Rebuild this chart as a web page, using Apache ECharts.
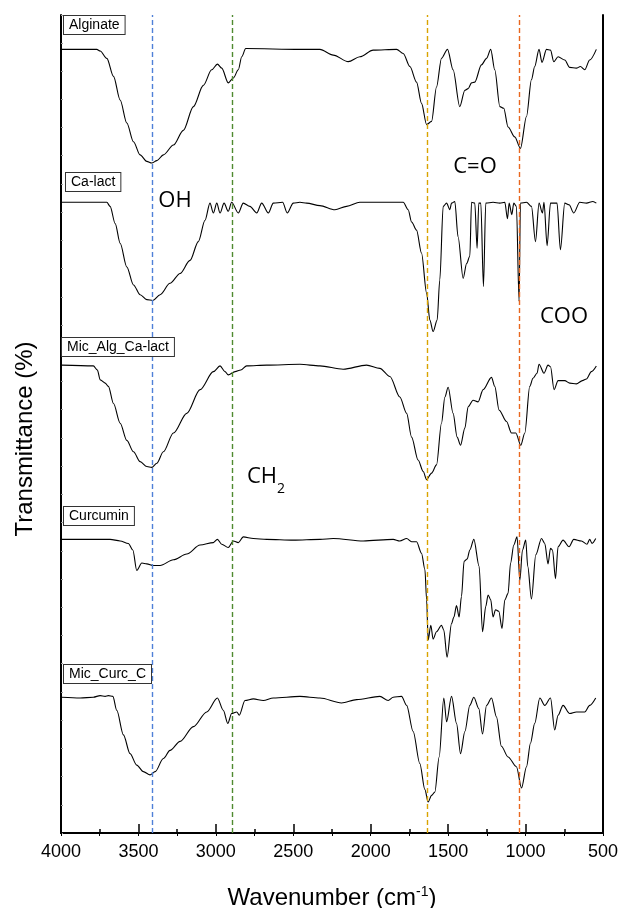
<!DOCTYPE html>
<html>
<head>
<meta charset="utf-8" />
<script src="https://cdn.jsdelivr.net/npm/echarts/dist/echarts.min.js"></script>
</head>
<body style="margin:0;background:#fff">
<div id="main" style="width:622px;height:908px"></div>
<script>
// FTIR spectra, stacked with offsets (arbitrary transmittance units, 0..100)
const alginate = [[3995,95.8],[3769,95.8],[3747,95.6],[3704,94.7],[3661,92.5],[3618,89.6],[3575,86.8],[3532,84.5],[3489,82.9],[3446,82.1],[3414,81.9],[3381,82.2],[3339,82.9],[3274,84.1],[3210,85.9],[3145,88.8],[3081,91.4],[3027,93.3],[2990,94.0],[2962,93.5],[2920,91.7],[2887,92.3],[2855,93.3],[2833,94.9],[2807,95.9],[2457,95.8],[2328,95.8],[2242,95.1],[2145,94.3],[2070,94.9],[1984,95.7],[1833,95.8],[1790,95.3],[1747,93.7],[1704,91.8],[1672,89.2],[1639,86.6],[1607,87.0],[1575,91.2],[1543,94.7],[1504,95.8],[1468,93.3],[1425,88.8],[1392,90.8],[1371,91.0],[1349,91.7],[1328,91.8],[1285,93.9],[1252,94.7],[1225,95.8],[1199,93.3],[1166,88.8],[1141,88.6],[1113,86.3],[1070,85.1],[1033,83.7],[994,87.6],[962,92.1],[941,93.7],[913,95.8],[894,94.2],[865,95.8],[839,95.7],[818,94.3],[790,94.9],[747,94.5],[715,93.6],[672,93.5],[646,93.7],[618,93.3],[586,94.5],[543,95.8]];

const caLact = [[3995,77.1],[3704,77.1],[3683,76.6],[3650,74.5],[3618,72.1],[3575,69.2],[3532,67.0],[3489,65.8],[3446,65.2],[3407,65.1],[3360,65.8],[3296,67.2],[3231,68.4],[3167,70.0],[3113,72.3],[3070,74.9],[3038,77.0],[3016,75.8],[2994,77.0],[2973,75.8],[2947,77.0],[2920,76.0],[2898,77.1],[2855,75.8],[2823,77.0],[2780,76.6],[2736,75.8],[2704,77.0],[2661,75.8],[2629,77.0],[2569,77.1],[2539,75.8],[2500,77.0],[2457,77.1],[2414,77.0],[2328,76.7],[2231,76.2],[2156,76.6],[2070,77.1],[1790,77.1],[1758,76.2],[1736,74.7],[1704,73.7],[1672,70.9],[1639,66.0],[1618,62.7],[1597,61.3],[1571,62.7],[1554,67.6],[1532,76.6],[1510,77.0],[1489,76.2],[1478,77.0],[1457,77.2],[1436,72.9],[1403,67.8],[1381,69.6],[1360,70.5],[1349,77.1],[1328,77.0],[1313,71.5],[1302,77.0],[1289,77.0],[1272,66.8],[1257,77.0],[1210,77.1],[1166,77.0],[1134,77.1],[1117,75.1],[1106,77.0],[1089,75.6],[1076,77.0],[1059,76.6],[1042,65.0],[1033,77.0],[994,77.1],[962,76.6],[936,72.3],[913,77.0],[891,75.8],[881,77.1],[861,71.8],[839,77.0],[797,77.0],[775,71.3],[747,77.0],[719,76.8],[689,75.8],[650,77.1],[607,77.0],[565,77.2],[543,77.0]];

const micAlgCaLact = [[3995,57.2],[3791,57.1],[3765,56.6],[3747,55.4],[3715,55.0],[3694,54.6],[3661,52.5],[3618,50.1],[3575,48.0],[3532,46.6],[3489,45.4],[3446,44.8],[3414,44.7],[3381,45.2],[3339,46.6],[3274,48.9],[3188,51.3],[3102,54.2],[3016,56.4],[2973,57.1],[2941,56.4],[2920,56.0],[2876,56.4],[2839,56.6],[2801,57.1],[2672,57.2],[2457,57.3],[2328,57.1],[2178,56.7],[2027,57.2],[1941,56.8],[1876,55.8],[1812,53.3],[1768,51.3],[1736,48.4],[1694,45.6],[1661,44.2],[1639,43.2],[1607,44.0],[1575,45.0],[1543,50.1],[1521,53.3],[1500,54.5],[1468,51.3],[1442,48.4],[1420,47.4],[1392,49.5],[1371,52.1],[1339,52.9],[1307,52.7],[1274,54.2],[1220,55.7],[1199,54.6],[1171,51.7],[1123,50.3],[1091,48.9],[1063,48.9],[1031,47.4],[1005,48.9],[973,54.6],[952,55.6],[926,56.2],[913,57.3],[881,56.2],[855,57.2],[839,57.0],[816,54.2],[790,55.3],[747,55.3],[715,55.0],[672,54.9],[633,55.3],[607,55.5],[575,56.4],[543,57.1]];

const curcumin = [[3995,35.9],[3683,35.9],[3618,35.7],[3565,35.4],[3536,34.6],[3511,32.1],[3478,33.0],[3446,32.9],[3403,32.7],[3360,32.7],[3274,33.4],[3188,34.1],[3102,35.2],[3016,35.5],[2990,35.9],[2962,35.3],[2920,34.9],[2887,35.7],[2855,35.5],[2823,36.2],[2758,36.0],[2672,35.9],[2500,35.8],[2328,35.9],[2242,36.0],[2048,35.7],[1855,35.9],[1812,35.7],[1768,36.0],[1736,35.6],[1704,35.6],[1672,34.2],[1650,32.2],[1639,28.5],[1629,23.6],[1612,25.4],[1597,23.7],[1575,24.6],[1543,25.4],[1528,24.8],[1507,21.5],[1478,25.6],[1463,26.4],[1446,27.8],[1429,26.4],[1414,28.9],[1397,33.2],[1377,33.5],[1360,34.6],[1334,35.9],[1300,32.6],[1278,24.6],[1257,27.7],[1242,29.1],[1225,28.5],[1210,26.4],[1194,27.3],[1173,27.1],[1152,25.0],[1134,28.5],[1113,29.3],[1097,33.0],[1076,35.2],[1055,36.2],[1037,30.9],[1020,34.6],[999,35.8],[986,32.6],[962,28.6],[934,34.0],[897,36.0],[876,35.4],[855,32.9],[839,34.8],[826,34.6],[807,31.1],[790,35.0],[758,35.8],[719,35.0],[689,35.9],[639,35.7],[603,35.3],[586,35.9],[571,35.4],[547,36.0]];

const micCurcC = [[3995,16.6],[3876,16.5],[3791,16.6],[3747,16.8],[3715,16.7],[3694,16.8],[3665,16.7],[3640,15.0],[3597,12.0],[3554,9.7],[3511,8.3],[3468,7.5],[3425,7.1],[3392,7.5],[3339,9.1],[3296,10.1],[3231,11.2],[3145,13.0],[3059,14.8],[2990,16.5],[2952,15.0],[2923,13.4],[2898,14.6],[2865,14.8],[2849,14.4],[2812,16.2],[2758,16.4],[2694,16.2],[2629,16.5],[2457,16.7],[2328,16.5],[2188,15.9],[2091,16.3],[1941,16.7],[1887,16.2],[1855,16.6],[1801,16.7],[1768,15.6],[1726,12.4],[1683,8.5],[1650,5.3],[1629,3.8],[1607,4.6],[1586,5.0],[1558,9.3],[1528,16.5],[1510,13.6],[1478,16.7],[1446,13.4],[1420,9.7],[1392,12.4],[1360,15.6],[1334,16.6],[1302,15.2],[1278,12.1],[1252,15.6],[1220,16.5],[1188,14.2],[1156,10.6],[1113,9.3],[1059,8.1],[1026,5.5],[994,8.1],[968,11.0],[941,13.4],[908,16.5],[876,15.6],[839,16.5],[812,12.6],[790,14.4],[758,15.6],[715,14.6],[672,14.8],[618,14.8],[586,15.6],[547,16.5]];

const spectra = [alginate, caLact, micAlgCaLact, curcumin, micCurcC];
const sampleNames = ['Alginate', 'Ca-lact', 'Mic_Alg_Ca-lact', 'Curcumin', 'Mic_Curc_C'];

// band markers (cm-1) and their colours
const bandPositions = [3410, 2893, 1638, 1040];
const bandColors = ['#4f80d8', '#4f8a30', '#d9a300', '#e8671e'];

const chart = echarts.init(document.getElementById('main'), null, { renderer: 'canvas' });

const series = spectra.map((d, i) => ({
  name: sampleNames[i],
  type: 'line',
  data: d,
  showSymbol: false,
  silent: true,
  smooth: 0.3,
  smoothMonotone: 'x',
  lineStyle: { color: '#000', width: 1.1 },
  z: 3
}));

series[0].markLine = {
  silent: true,
  symbol: 'none',
  label: { show: false },
  data: bandPositions.map((v, i) => ({ xAxis: v, lineStyle: { color: bandColors[i], type: [5, 3], width: 1.4, opacity: 1 } }))
};

const labelTops = [16, 173, 338, 507, 665];
const labelLefts = [64, 66, 62, 64, 64];

const boxFont = '14px "Liberation Sans", Arial, sans-serif';
const annFont = '22px "Open Sans", sans-serif';

const graphic = sampleNames.map((n, i) => ({
  type: 'text',
  x: labelLefts[i],
  y: labelTops[i],
  z: 10,
  style: {
    text: n,
    font: boxFont,
    fill: '#000',
    backgroundColor: '#fff',
    borderColor: '#333',
    borderWidth: 1,
    padding: [2, 5, 2, 5]
  }
}));

const annotations = [
  { text: 'OH', x: 175, y: 201 },
  { text: 'C=O', x: 475, y: 167 },
  { text: 'COO', x: 564, y: 317 },
  { text: 'CH', x: 262, y: 477 }
];
annotations.forEach(a => graphic.push({
  type: 'text', x: a.x, y: a.y, z: 10,
  style: { text: a.text, font: annFont, fill: '#000', textAlign: 'center', textVerticalAlign: 'middle' }
}));
graphic.push({
  type: 'text', x: 281, y: 489, z: 10,
  style: { text: '2', font: '14px "Open Sans", sans-serif', fill: '#000', textAlign: 'center', textVerticalAlign: 'middle' }
});

const option = {
  animation: false,
  backgroundColor: '#fff',
  grid: { left: 61, right: 19, top: 15, bottom: 75, containLabel: false, outerBoundsMode: 'none' },
  xAxis: [
    {
      type: 'value',
      min: 500,
      max: 4000,
      interval: 500,
      inverse: true,
      position: 'bottom',
      name: '{a|Wavenumber (cm}{s|-1}{a|)}',
      nameLocation: 'middle',
      nameGap: 52,
      nameTextStyle: {
        rich: {
          a: { fontSize: 24, fontFamily: 'Liberation Sans', color: '#000' },
          s: { fontSize: 14, fontFamily: 'Liberation Sans', color: '#000', padding: [0, 0, 13, 0] }
        }
      },
      axisLine: { lineStyle: { color: '#000', width: 2 } },
      axisTick: { inside: true, length: 9, lineStyle: { color: '#000', width: 1.5 } },
      minorTick: { show: true, splitNumber: 2, length: 4, lineStyle: { color: '#000', width: 1.5 } },
      axisLabel: { fontSize: 18, color: '#000', fontFamily: 'Liberation Sans', margin: 10, formatter: v => String(v) },
      splitLine: { show: false }
    },
    {
      type: 'value',
      min: 500,
      max: 4000,
      interval: 250,
      inverse: true,
      position: 'top',
      axisLine: { lineStyle: { color: '#000', width: 1 } },
      axisTick: { inside: true, length: 3, lineStyle: { color: '#000', width: 1 } },
      axisLabel: { show: false },
      splitLine: { show: false }
    }
  ],
  yAxis: [
    {
      type: 'value',
      min: 0,
      max: 100,
      interval: 3.45,
      position: 'left',
      name: 'Transmittance (%)',
      nameLocation: 'middle',
      nameGap: 24,
      nameTextStyle: { fontSize: 24, fontFamily: 'Liberation Sans', color: '#000', padding: [0, 30, 0, 0] },
      axisLine: { show: true, lineStyle: { color: '#000', width: 2 } },
      axisTick: { show: true, inside: true, length: 2, lineStyle: { color: '#999', width: 1 } },
      axisLabel: { show: false },
      splitLine: { show: false }
    },
    {
      type: 'value',
      min: 0,
      max: 100,
      position: 'right',
      axisLine: { show: true, lineStyle: { color: '#000', width: 2 } },
      axisTick: { show: false },
      axisLabel: { show: false },
      splitLine: { show: false }
    }
  ],
  series: series,
  graphic: graphic
};

chart.setOption(option);
</script>
</body>
</html>
